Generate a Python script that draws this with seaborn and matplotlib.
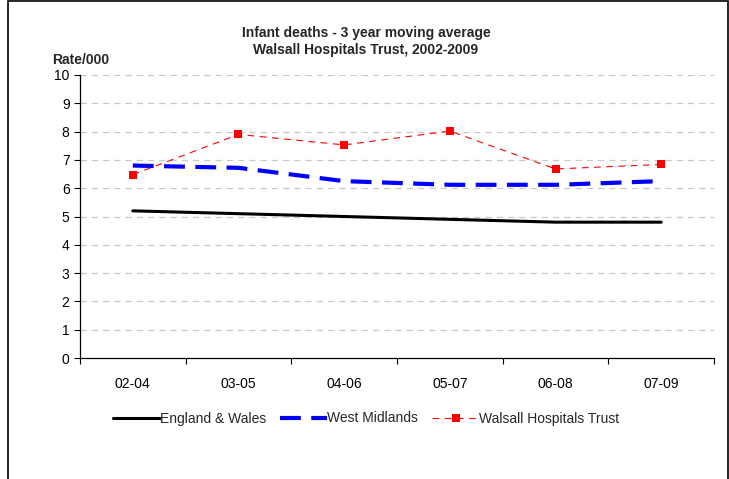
import matplotlib
matplotlib.use("Agg")
import matplotlib.pyplot as plt
import seaborn as sns
import pandas as pd
from matplotlib.patches import Rectangle
from matplotlib.ticker import FixedLocator

periods = ["02-04", "03-05", "04-06", "05-07", "06-08", "07-09"]
england_wales = [5.2, 5.1, 5.0, 4.9, 4.8, 4.8]
west_midlands = [6.8, 6.72, 6.25, 6.12, 6.12, 6.25]
walsall = [6.48, 7.9, 7.53, 8.02, 6.68, 6.84]

sns.set_theme(style="white")
plt.rcParams['font.family'] = ['Liberation Sans', 'DejaVu Sans']

fig = plt.figure(figsize=(7.29, 4.79), dpi=100)
ax = fig.add_axes([80/729, 1-358/479, (714-80)/729, (358-75)/479])

df = pd.DataFrame({"pos": list(range(len(periods))),
                   "England & Wales": england_wales,
                   "West Midlands": west_midlands,
                   "Walsall Hospitals Trust": walsall})

sns.lineplot(data=df, x="pos", y="England & Wales", ax=ax, color="black",
             linewidth=2.2, label="England & Wales")
sns.lineplot(data=df, x="pos", y="West Midlands", ax=ax, color="#0000FF",
             linewidth=3.0, dashes=False, label="West Midlands").lines[-1].set_dashes((5, 2.5))
l = sns.lineplot(data=df, x="pos", y="Walsall Hospitals Trust", ax=ax, color="#FF0000",
                 linewidth=0.8, marker="s", markersize=5.5, markeredgewidth=0,
                 label="Walsall Hospitals Trust").lines[-1]
l.set_dashes((6, 5))

ax.set_xlim(-0.5, len(periods) - 0.5)
ax.set_ylim(0, 10)
ax.set_yticks(range(0, 11))
ax.set_xticks(range(len(periods)))
ax.set_xticklabels(periods)
ax.xaxis.set_minor_locator(FixedLocator([i - 0.5 for i in range(len(periods) + 1)]))
ax.tick_params(axis="x", which="major", length=0, pad=14, labelsize=10, colors="black")
ax.tick_params(axis="x", which="minor", length=4, width=0.8, color="black", direction="out", bottom=True)
ax.tick_params(axis="y", length=4, width=0.8, color="black", direction="out", left=True, labelsize=10, labelcolor="black")
ax.set_xlabel("")
ax.set_ylabel("")

for v in range(1, 11):
    ax.axhline(v, color="#C8C8C8", linewidth=0.9, dashes=(5, 4), zorder=0)

for s in ["top", "right"]:
    ax.spines[s].set_visible(False)
for s in ["left", "bottom"]:
    ax.spines[s].set_color("black")
    ax.spines[s].set_linewidth(0.9)

ax.legend(loc="upper center", bbox_to_anchor=(0.502, 1 - 399/479), bbox_transform=fig.transFigure,
          ncol=3, frameon=False, fontsize=10, handlelength=3.4, handletextpad=0.0,
          columnspacing=1.0)

fig.text(366/729, 1 - 33/479, "Infant deaths - 3 year moving average", ha="center", va="center",
         fontsize=10, fontweight="bold")
fig.text(366/729, 1 - 50/479, "Walsall Hospitals Trust, 2002-2009", ha="center", va="center",
         fontsize=10, fontweight="bold")
fig.text(52/729, 1 - 60/479, "Rate/000", ha="left", va="center", fontsize=10, fontweight="bold")

fig.patches.append(Rectangle((8/729, -0.01), 1 - 9/729, 1 - 1/479 + 0.01, transform=fig.transFigure,
                             fill=False, edgecolor="black", linewidth=1.2))

fig.savefig("out.png", dpi=100)
